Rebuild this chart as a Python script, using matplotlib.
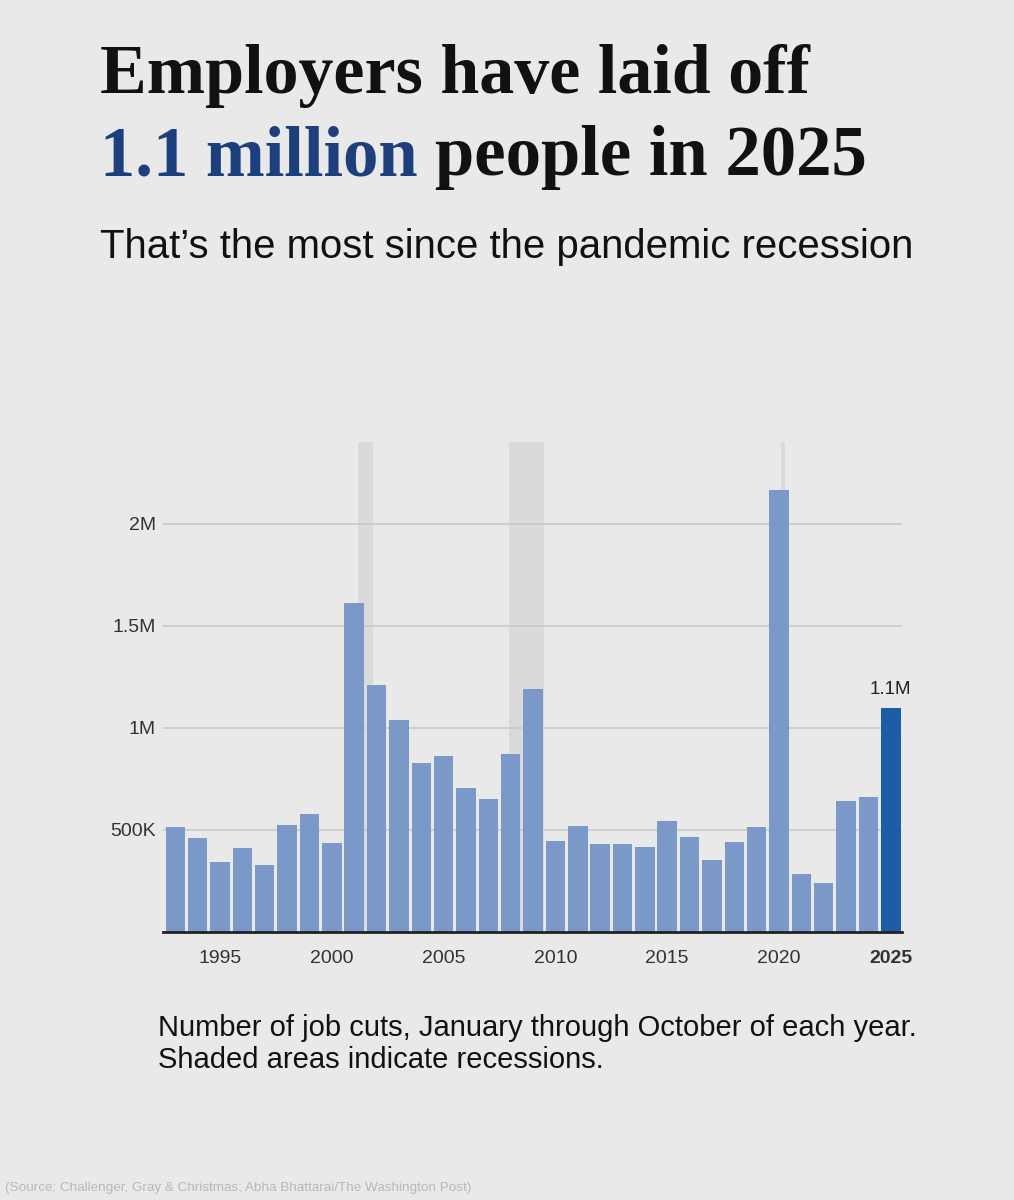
import matplotlib
matplotlib.use("Agg")
import matplotlib.pyplot as plt
from matplotlib.ticker import FixedLocator, FuncFormatter

# job cuts Jan-Oct, millions
years = list(range(1993, 2026))
cuts = [0.513, 0.458, 0.343, 0.409, 0.327, 0.522, 0.579, 0.436, 1.609, 1.212,
        1.040, 0.828, 0.862, 0.705, 0.652, 0.874, 1.189, 0.448, 0.519, 0.431,
        0.431, 0.416, 0.544, 0.466, 0.352, 0.439, 0.513, 2.163, 0.286, 0.242,
        0.640, 0.663, 1.098]

# recessions as fractional years (bars sit on Jan 1 of each year)
recessions = [(2001.17, 2001.83), (2007.92, 2009.5), (2020.1, 2020.25)]

y_ticks = [0.5, 1.0, 1.5, 2.0]
y_tick_labels = ["500K", "1M", "1.5M", "2M"]
x_ticks = [1995, 2000, 2005, 2010, 2015, 2020, 2025]

bg = "#e9e9e9"
bar_col = "#7b99c8"
hi_col = "#1b5da6"
shade_col = "#dadada"
title_blue = "#1d3f7e"
W, H = 1014, 1200

plt.rcParams["font.family"] = ["Liberation Sans", "DejaVu Sans"]

fig = plt.figure(figsize=(W / 100, H / 100), dpi=100, facecolor=bg)
ax = fig.add_axes([163 / W, 1 - 932 / H, (902 - 163) / W, (932 - 442) / H])
ax.set_facecolor(bg)

for start, end in recessions:
    ax.axvspan(start, end, color=shade_col, lw=0, zorder=0)

colors = [hi_col if y == 2025 else bar_col for y in years]
ax.bar(years, cuts, width=0.87, color=colors, zorder=2)

ax.set_xlim(1992.45, 2025.5)
ax.set_ylim(0, 2.4)

ax.yaxis.set_major_locator(FixedLocator(y_ticks))
ax.yaxis.set_major_formatter(FuncFormatter(lambda v, p: y_tick_labels[y_ticks.index(round(v, 1))]))
ax.grid(axis="y", color="#c9c9c9", lw=1.2, zorder=1)
ax.set_axisbelow(True)
ax.set_xticks(x_ticks)
ax.set_xticklabels([str(x) for x in x_ticks])
ax.get_xticklabels()[-1].set_fontweight("bold")
ax.get_xticklabels()[-1].set_color("#111111")

ax.tick_params(axis="y", length=0, pad=5, labelsize=14, labelcolor="#333333")
ax.tick_params(axis="x", length=0, pad=13, labelsize=14, labelcolor="#333333")
for s in ["top", "right", "left"]:
    ax.spines[s].set_visible(False)
ax.spines["bottom"].set_color("#222222")
ax.spines["bottom"].set_linewidth(2)
ax.spines["bottom"].set_zorder(3)

ax.text(2025, cuts[-1] + 0.05, "1.1M", ha="center", va="bottom",
        fontsize=13.5, color="#222222")


def fit(t, x0, x1):
    # shrink/grow a text so it spans x0..x1 pixels
    fig.canvas.draw()
    w = t.get_window_extent().width
    t.set_fontsize(t.get_fontsize() * (x1 - x0) / w)


serif = dict(family=["Liberation Serif", "DejaVu Serif"], fontweight="bold")
l1 = fig.text(100 / W, 1 - 93 / H, "Employers have laid off", fontsize=50,
              color="#111111", va="baseline", **serif)
fit(l1, 100, 810)

# measure the whole second line once, then split it into two colours
tmp = fig.text(100 / W, 1 - 175 / H, "1.1 million people in 2025", fontsize=50,
               va="baseline", **serif)
fit(tmp, 100, 868)
fs2 = tmp.get_fontsize()
tmp.remove()
t1 = fig.text(100 / W, 1 - 175 / H, "1.1 million ", fontsize=fs2,
              color=title_blue, va="baseline", **serif)
fig.canvas.draw()
ext = t1.get_window_extent()
fig.text(ext.x1 / W, 1 - 175 / H, "people in 2025", fontsize=fs2,
         color="#111111", va="baseline", **serif)

sub = fig.text(100 / W, 1 - 258 / H, "That\u2019s the most since the pandemic recession",
               fontsize=26, color="#111111", va="baseline")
fit(sub, 100, 913)

c1 = fig.text(158 / W, 1 - 1036 / H,
              "Number of job cuts, January through October of each year.",
              fontsize=19, color="#111111", va="baseline")
fit(c1, 158, 917)
fig.text(158 / W, 1 - 1068 / H, "Shaded areas indicate recessions.",
         fontsize=c1.get_fontsize(), color="#111111", va="baseline")
src = fig.text(5 / W, 1 - 1191 / H,
               "(Source: Challenger, Gray & Christmas; Abha Bhattarai/The Washington Post)",
               fontsize=8, color="#b8b8b8", va="baseline")
fit(src, 12, 480)

fig.savefig("out.png", dpi=100, facecolor=bg)
